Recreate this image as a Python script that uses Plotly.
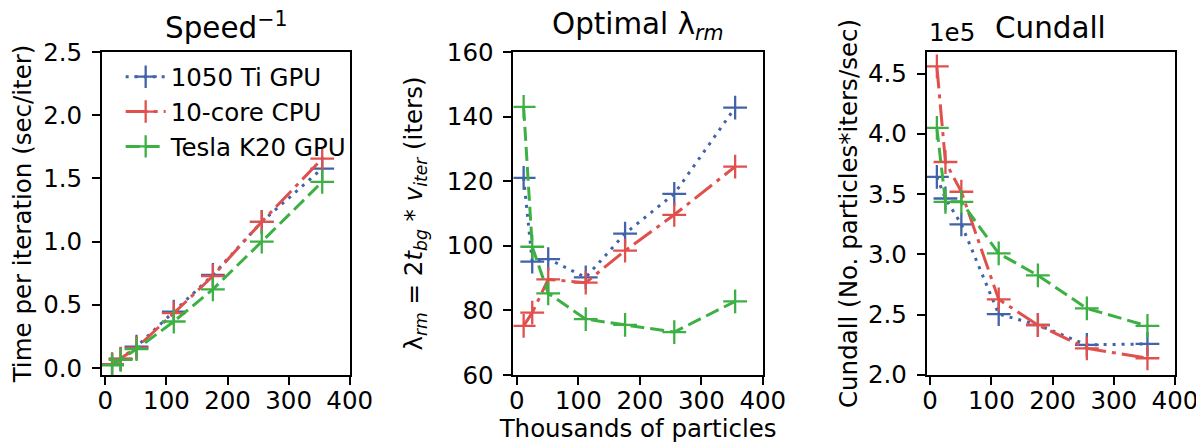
import plotly.graph_objects as go
from plotly.subplots import make_subplots

# ---- data ----
particles_k = [11, 25, 51, 112, 176, 256, 355]   # thousands of particles
series_names = ["1050 Ti GPU", "10-core CPU", "Tesla K20 GPU"]

time_1050 = [0.026, 0.073, 0.17, 0.447, 0.736, 1.157, 1.578]
time_cpu = [0.03, 0.075, 0.16, 0.434, 0.728, 1.157, 1.657]
time_k20 = [0.022, 0.065, 0.15, 0.368, 0.623, 1.0, 1.473]

lam_1050 = [121, 95.1, 95.9, 90.2, 103.8, 116.1, 142.8]
lam_cpu = [75.2, 79.3, 89.6, 88.6, 98.5, 109.6, 124.5]
lam_k20 = [143, 99.7, 85.3, 77.3, 75.5, 73.3, 82.8]

cundall_1050 = [364300, 346400, 325000, 250500, 241400, 224900, 225700]
cundall_cpu = [456000, 376700, 352000, 262700, 241400, 222000, 213800]
cundall_k20 = [405000, 343600, 343600, 300800, 282600, 255200, 240600]

x_ticks = [0, 100, 200, 300, 400]
colors = ["#4163a8", "#e0504c", "#3cb043"]
dashes = ["3px,6px", "22px,6px,4px,6px", "14px,6px"]

FONT = "DejaVu Sans"
FS = 24.5
TFS = 29.4

# the page body adds an 8px margin; lay the figure out in page pixels minus it
OFF = 8
W, H = 1204 - OFF, 443 - OFF
ml, mr, mt, mb = 101.7 - OFF, 29, 51.7 - OFF, 68
pw = W - ml - mr


def dom(a, b):
    a -= OFF
    b -= OFF
    return [(a - ml) / pw, (b - ml) / pw]


fig = make_subplots(rows=1, cols=3)

data_sets = [
    (1, [time_1050, time_cpu, time_k20], 1.0),
    (2, [lam_1050, lam_cpu, lam_k20], 1.0),
    (3, [cundall_1050, cundall_cpu, cundall_k20], 1e-5),
]
for col, ys, scale in data_sets:
    for i, y in enumerate(ys):
        fig.add_trace(
            go.Scatter(
                x=particles_k,
                y=[v * scale for v in y],
                mode="lines+markers",
                name=series_names[i],
                showlegend=(col == 1),
                line=dict(color=colors[i], width=3, dash=dashes[i]),
                marker=dict(symbol="cross-thin", size=17,
                            line=dict(color=colors[i], width=2.3)),
            ),
            row=1, col=col,
        )

axis_common = dict(
    showline=True, mirror=True, linecolor="black", linewidth=2,
    ticks="outside", ticklen=8, tickwidth=2, tickcolor="black",
    showgrid=False, zeroline=False,
    tickfont=dict(family=FONT, size=FS, color="black"),
)

doms = [dom(101.7, 349.5), dom(513.3, 762.7), dom(926.7, 1175)]
for k in range(3):
    fig.update_xaxes(axis_common, range=[-5.5, 400], tickvals=x_ticks,
                     ticklabelstandoff=-5,
                     domain=doms[k], row=1, col=k + 1)

fig.update_xaxes(title=dict(text="Thousands of particles",
                            font=dict(family=FONT, size=FS, color="black"),
                            standoff=0), row=1, col=2)

fig.update_yaxes(axis_common, range=[-0.055, 2.5], dtick=0.5, tickformat=".1f",
                 ticklabelstandoff=5,
                 title=dict(text="Time per iteration (sec/iter)",
                            font=dict(family=FONT, size=FS, color="black"),
                            standoff=7), row=1, col=1)
fig.update_yaxes(axis_common, range=[60, 160], dtick=20,
                 ticklabelstandoff=5,
                 title=dict(text="λ<sub><i>rm</i></sub> = 2<i>t</i><sub><i>bg</i></sub> * <i>v</i><sub><i>iter</i></sub> (iters)",
                            font=dict(family=FONT, size=FS, color="black"),
                            standoff=17), row=1, col=2)
fig.update_yaxes(axis_common, range=[1.999, 4.68], dtick=0.5, tickformat=".1f",
                 ticklabelstandoff=5,
                 title=dict(text="Cundall (No. particles*iters/sec)",
                            font=dict(family=FONT, size=FS, color="black"),
                            standoff=3), row=1, col=3)

titles = ["Speed<sup>−1</sup>", "Optimal λ<sub><i>rm</i></sub>", "Cundall"]
for k, t in enumerate(titles):
    fig.add_annotation(text=t, xref="paper", yref="paper",
                       x=(doms[k][0] + doms[k][1]) / 2, y=1,
                       xanchor="center", yanchor="bottom", yshift=5,
                       showarrow=False,
                       font=dict(family=FONT, size=TFS, color="black"))

fig.add_annotation(text="1e5", xref="paper", yref="paper",
                   x=doms[2][0], y=1, xanchor="left", yanchor="bottom",
                   yshift=3, showarrow=False,
                   font=dict(family=FONT, size=FS, color="black"))

fig.update_layout(
    width=W, height=H,
    margin=dict(l=ml, r=mr, t=mt, b=mb, autoexpand=False),
    paper_bgcolor="white", plot_bgcolor="white",
    font=dict(family=FONT, size=FS, color="black"),
    legend=dict(x=0.0174, y=0.993, xanchor="left", yanchor="top",
                bgcolor="rgba(255,255,255,0)",
                font=dict(family=FONT, size=FS, color="black"),
                tracegroupgap=0, itemwidth=40),
)

fig.write_html("out.html")
